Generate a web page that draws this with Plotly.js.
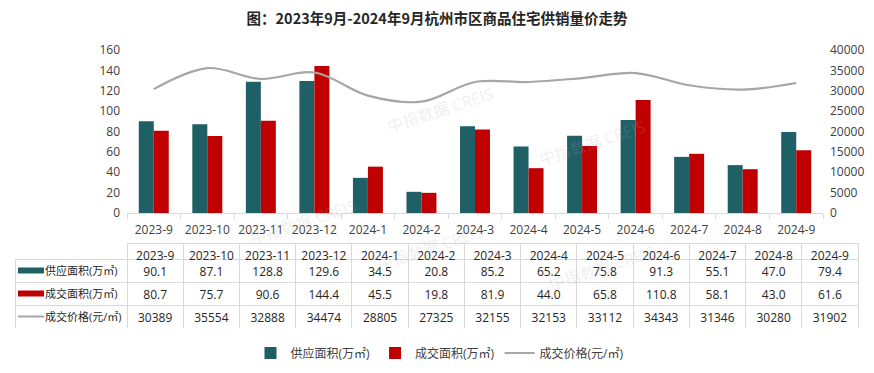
<!DOCTYPE html>
<html>
<head>
<meta charset="utf-8">
<script src="https://cdn.plot.ly/plotly-3.0.1.min.js"></script>
<style>html,body{margin:0;padding:0;background:#fff;}#chart{width:874px;height:373px;}</style>
</head>
<body>
<div id="chart"></div>
<script>
const categories = ['2023-9','2023-10','2023-11','2023-12','2024-1','2024-2','2024-3','2024-4','2024-5','2024-6','2024-7','2024-8','2024-9'];
const supplyArea = [90.1, 87.1, 128.8, 129.6, 34.5, 20.8, 85.2, 65.2, 75.8, 91.3, 55.1, 47.0, 79.4];
const dealArea = [80.7, 75.7, 90.6, 144.4, 45.5, 19.8, 81.9, 44.0, 65.8, 110.8, 58.1, 43.0, 61.6];
const dealPrice = [30389, 35554, 32888, 34474, 28805, 27325, 32155, 32153, 33112, 34343, 31346, 30280, 31902];
const seriesNames = ['供应面积(万㎡)', '成交面积(万㎡)', '成交价格(元/㎡)'];
const titleText = '图：2023年9月-2024年9月杭州市区商品住宅供销量价走势';

const TEAL = '#1F5F66', RED = '#C00000', GRAY = '#A6A6A6';
const seriesColors = [TEAL, RED, GRAY];
const FONT = 'Open Sans, Noto Sans CJK SC, sans-serif';
const W = 874, H = 373, ML = 15, MR = 16, MT = 40, MB = 5;
const PW = W - ML - MR, PH = H - MT - MB;
const px = x => (x - ML) / PW;
const py = y => (H - MB - y) / PH;

// table geometry (pixels)
const TBL_TOP = 243, HEAD_H = 16, ROW_H = 23;
const TBL_BOTTOM = TBL_TOP + HEAD_H + 3 * ROW_H;

const fmt1 = v => v.toFixed(1);
const indent = '\u2003\u2003';
const tableLabels = seriesNames.map(n => indent + n);
const cellCols = [tableLabels].concat(categories.map((c, i) => [fmt1(supplyArea[i]), fmt1(dealArea[i]), String(dealPrice[i])]));

const traces = [
  {type:'bar', name:seriesNames[0], x:categories, y:supplyArea, marker:{color:TEAL}, xaxis:'x', yaxis:'y'},
  {type:'bar', name:seriesNames[1], x:categories, y:dealArea, marker:{color:RED}, xaxis:'x', yaxis:'y'},
  {type:'scatter', mode:'lines', name:seriesNames[2], x:categories, y:dealPrice, line:{color:GRAY, width:2.2, shape:'spline', smoothing:1}, xaxis:'x', yaxis:'y2'},
  {type:'table', domain:{x:[0,1], y:[py(TBL_BOTTOM), py(TBL_TOP)]},
   columnwidth:[112].concat(categories.map(() => 56.2)),
   header:{values:[''].concat(categories), height:HEAD_H, align:'center',
     line:{color:['rgba(0,0,0,0)'].concat(categories.map(() => '#D9D9D9')), width:1},
     fill:{color:'#ffffff'}, font:{family:FONT, size:12, color:'#262626'}},
   cells:{values:cellCols, height:ROW_H, align:['left'].concat(categories.map(() => 'center')),
     line:{color:'#D9D9D9', width:1}, fill:{color:'#ffffff'},
     font:{family:FONT, size:[11].concat(categories.map(() => 12)), color:'#262626'}},
   showlegend:false}
];

// series swatches inside the table's label column
const shapes = seriesColors.map((col, i) => {
  const yc = TBL_TOP + HEAD_H + ROW_H * (i + 0.5);
  if (i < 2) {
    return {type:'rect', layer:'above', xref:'paper', yref:'paper', x0:px(18), x1:px(44), y0:py(yc + 3), y1:py(yc - 3), fillcolor:col, line:{width:0}};
  }
  return {type:'line', layer:'above', xref:'paper', yref:'paper', x0:px(18), x1:px(44), y0:py(yc), y1:py(yc), line:{color:col, width:2}};
});

const wm = [[440,80],[650,113],[245,222],[430,278],[660,298]];
const annotations = wm.map(p => ({xref:'paper', yref:'paper', x:px(p[0]), y:py(p[1]), text:'中指数据 CREIS', showarrow:false, textangle:-18, font:{family:FONT, size:16, color:'rgba(170,170,170,0.2)'}}));

const layout = {
  width:W, height:H, margin:{l:ML, r:MR, t:MT, b:MB},
  paper_bgcolor:'#fff', plot_bgcolor:'rgba(0,0,0,0)',
  font:{family:FONT, size:12, color:'#404040'},
  title:{text:titleText, x:0.5, xref:'container', y:1 - 19/H, yref:'container', yanchor:'middle', xanchor:'center', font:{family:'Noto Sans CJK SC, sans-serif', size:14.5, color:'#262626', weight:'bold'}},
  barmode:'group', bargap:0.44, bargroupgap:0,
  xaxis:{type:'category', domain:[px(127), px(823)], showgrid:false, showline:true, linecolor:'#D9D9D9', linewidth:1, ticks:'outside', tickson:'boundaries', ticklen:5, tickcolor:'#D9D9D9', tickangle:0, ticklabelstandoff:6, tickfont:{size:12, color:'#404040'}, anchor:'y'},
  yaxis:{domain:[py(213), py(50)], range:[0,160], dtick:20, showgrid:false, showline:false, zeroline:false, ticks:'', ticklabelstandoff:6, tickfont:{size:12, color:'#404040'}},
  yaxis2:{overlaying:'y', side:'right', range:[0,40000], dtick:5000, tickformat:'d', showgrid:false, showline:false, zeroline:false, ticks:'', ticklabelstandoff:6, tickfont:{size:12, color:'#404040'}, anchor:'x'},
  legend:{orientation:'h', x:px(440), xanchor:'center', y:py(353), yanchor:'middle', font:{size:12, color:'#404040'}, traceorder:'normal'},
  shapes:shapes,
  annotations:annotations
};

Plotly.newPlot('chart', traces, layout, {staticPlot:true, displayModeBar:false});
</script>
</body>
</html>
